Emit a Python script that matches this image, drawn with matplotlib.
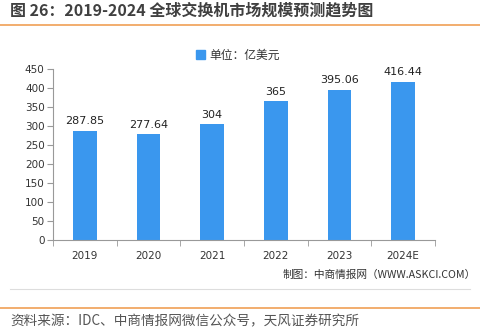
import numpy as np
import matplotlib as mpl

mpl.use("Agg")
import matplotlib.pyplot as plt
from matplotlib.lines import Line2D
from matplotlib.patches import Patch

years = ["2019", "2020", "2021", "2022", "2023", "2024E"]
market = [287.85, 277.64, 304, 365, 395.06, 416.44]
value_labels = ["287.85", "277.64", "304", "365", "395.06", "416.44"]
yticks = [0, 50, 100, 150, 200, 250, 300, 350, 400, 450]

plt.rcParams["font.family"] = ["Noto Sans CJK SC", "DejaVu Sans"]

W, H = 480, 330
fig = plt.figure(figsize=(W / 100, H / 100), dpi=100)


def fx(px):
    return px / W


def fy(py):
    return 1 - py / H


# title + rules
fig.text(fx(10), fy(11), "图 26：2019-2024 全球交换机市场规模预测趋势图",
         fontsize=11.5, fontweight="bold", color="#404040", va="center")
fig.add_artist(Line2D([0, 1], [fy(25), fy(25)], color="#F0A055", lw=1.2))
fig.add_artist(Line2D([fx(10), fx(470)], [fy(289), fy(289)], color="#DDDDDD", lw=0.8))
fig.add_artist(Line2D([0, 1], [fy(308), fy(308)], color="#F0A055", lw=1.2))
fig.text(fx(10), fy(321), "资料来源：IDC、中商情报网微信公众号，天风证券研究所",
         fontsize=9.8, color="#555555", va="center")
fig.text(fx(283), fy(275), "制图：中商情报网（WWW.ASKCI.COM）",
         fontsize=7.7, color="#333333", va="center")

ax = fig.add_axes([fx(53), fy(240), fx(435) - fx(53), (240 - 69) / H])
x = np.arange(len(years))
bar_color = "#3A97EE"
ax.bar(x, market, width=0.37, color=bar_color, zorder=2)
for xi, v, lab in zip(x, market, value_labels):
    ax.text(xi, v + 12, lab, ha="center", va="bottom", fontsize=8,
            color="#222222", family=["DejaVu Sans"])

ax.set_xlim(-0.5, len(years) - 0.5)
ax.set_ylim(0, 450)
ax.set_yticks(yticks)
ax.set_yticklabels([str(t) for t in yticks], family=["DejaVu Sans"])
ax.set_xticks(x)
ax.set_xticklabels(years, family=["DejaVu Sans"])
ax.set_xticks(np.arange(-0.5, len(years)), minor=True)
ax.tick_params(axis="x", which="major", length=0, pad=8, labelsize=7.5, labelcolor="#333333")
ax.tick_params(axis="x", which="minor", length=4, color="#999999")
ax.tick_params(axis="y", length=4, color="#999999", labelsize=7.5, labelcolor="#333333", pad=2)
for s in ["top", "right"]:
    ax.spines[s].set_visible(False)
for s in ["left", "bottom"]:
    ax.spines[s].set_color("#999999")
    ax.spines[s].set_linewidth(0.8)

fig.legend(handles=[Patch(color=bar_color, label="单位：亿美元")],
           loc="center", bbox_to_anchor=(fx(238), fy(55)), frameon=False,
           fontsize=8.5, handlelength=0.8, handleheight=0.8, handletextpad=0.4,
           labelcolor="#333333")

fig.savefig("out.png", dpi=100)
